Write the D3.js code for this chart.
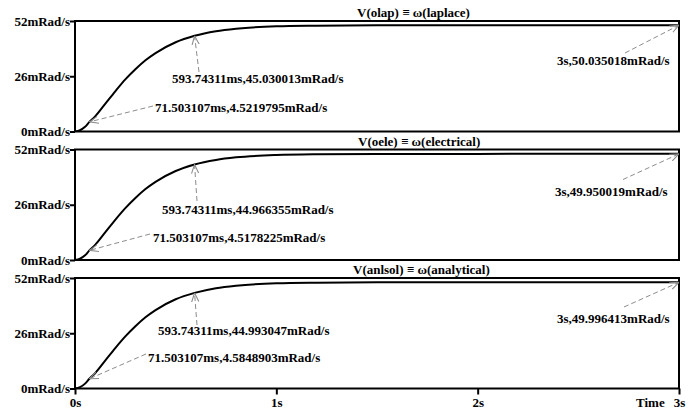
<!DOCTYPE html>
<html>
<head>
<meta charset="utf-8">
<script src="https://cdn.jsdelivr.net/npm/d3@7"></script>
<style>
  body { margin: 0; background: #fff; }
  text { font-family: "Liberation Serif", "Times New Roman", serif; font-weight: bold; font-size: 13px; fill: #000; }
</style>
</head>
<body>
<svg id="chart" width="696" height="411" viewBox="0 0 696 411"></svg>
<script>
// sample times (s)
const timeS = [0, 0.025, 0.05, 0.0715, 0.1, 0.15, 0.2, 0.25, 0.3, 0.35, 0.4, 0.5, 0.5937, 0.7, 0.8, 1.0, 1.2, 1.5, 2.0, 2.5, 3.0];

// angular speed, mRad/s
const laplace = [0, 0.6, 2.2, 4.52, 7.1, 13.0, 18.9, 24.5, 29.3, 33.5, 36.9, 42.0, 45.03, 47.2, 48.4, 49.5, 49.8, 49.97, 50.02, 50.03, 50.035];
const electrical = [0, 0.6, 2.2, 4.52, 7.1, 13.0, 18.9, 24.4, 29.2, 33.4, 36.8, 41.9, 44.97, 47.1, 48.3, 49.4, 49.75, 49.9, 49.94, 49.95, 49.95];
const analytical = [0, 0.6, 2.3, 4.58, 7.2, 13.1, 19.0, 24.5, 29.3, 33.5, 36.9, 42.0, 44.99, 47.2, 48.4, 49.5, 49.8, 49.95, 49.99, 50.0, 49.996];

const panelTitles = ["V(olap) \u2261 \u03c9(laplace)", "V(oele) \u2261 \u03c9(electrical)", "V(anlsol) \u2261 \u03c9(analytical)"];

// cursor readouts: [time s, value mRad/s] per panel
const markerTimes = [0.071503107, 0.59374311, 3];
const markerValues = [
  [4.5219795, 45.030013, 50.035018],
  [4.5178225, 44.966355, 49.950019],
  [4.5848903, 44.993047, 49.996413]
];
const markerLabels = [
  ["71.503107ms,4.5219795mRad/s", "593.74311ms,45.030013mRad/s", "3s,50.035018mRad/s"],
  ["71.503107ms,4.5178225mRad/s", "593.74311ms,44.966355mRad/s", "3s,49.950019mRad/s"],
  ["71.503107ms,4.5848903mRad/s", "593.74311ms,44.993047mRad/s", "3s,49.996413mRad/s"]
];

const yTicks = [0, 26, 52];
const yTickLabels = ["0mRad/s", "26mRad/s", "52mRad/s"];
const xTicks = [0, 1, 2, 3];
const xTickLabels = ["0s", "1s", "2s", "3s"];

const series = [laplace, electrical, analytical];

const svg = d3.select("#chart");
svg.append("rect").attr("width", 696).attr("height", 411).attr("fill", "#fff");

const plotLeft = 75, plotRight = 679;
const panelTops = [21, 149.5, 278];
const panelH = 110.5;
const titleX = [357, 358, 353];

// label layout per panel/marker: text x, baseline (rel. top), line start x, line start y (rel. top)
const labelPos = [
  [[155, 91, 153, 85], [172, 62, 199, 51], [557, 44, 625, 32]],
  [[153, 92.5, 150, 84.5], [162, 64, 197, 51.5], [555, 46, 623, 30]],
  [[148, 83.5, 146, 76], [158, 57, 197, 47], [557, 45, 624, 29]]
];

const x = d3.scaleLinear().domain([0, 3]).range([plotLeft, plotRight]);

const defs = svg.append("defs");
defs.append("marker")
  .attr("id", "openArrow")
  .attr("viewBox", "0 0 10 10")
  .attr("refX", 10).attr("refY", 5)
  .attr("markerWidth", 9).attr("markerHeight", 9)
  .attr("markerUnits", "userSpaceOnUse")
  .attr("orient", "auto")
  .append("path")
  .attr("d", "M0,1 L10,5 L0,9")
  .attr("fill", "none")
  .attr("stroke", "#8c8c8c")
  .attr("stroke-width", 1.2);

series.forEach((vals, p) => {
  const top = panelTops[p];
  const bottom = top + panelH;
  const y = d3.scaleLinear().domain([0, 52]).range([bottom, top]);
  const g = svg.append("g").attr("class", "panel");

  g.append("text")
    .attr("x", titleX[p])
    .attr("y", top - 4)
    .text(panelTitles[p]);

  // y axis ticks
  const yAxis = d3.axisLeft(y).tickValues(yTicks).tickSize(5)
    .tickFormat((d, i) => yTickLabels[i]);
  const ya = g.append("g").attr("transform", `translate(${plotLeft},0)`).call(yAxis);
  ya.select(".domain").remove();
  ya.selectAll("line").attr("stroke", "#000").attr("stroke-width", 2);
  ya.selectAll("text")
    .attr("x", -5)
    .style("font-family", "'Liberation Serif', serif")
    .style("font-weight", "bold")
    .style("font-size", "13px")
    .attr("fill", "#000");

  if (p === 2) {
    const xAxis = d3.axisBottom(x).tickValues(xTicks).tickSize(6)
      .tickFormat((d, i) => xTickLabels[i]);
    const xa = g.append("g").attr("transform", `translate(0,${bottom})`).call(xAxis);
    xa.select(".domain").remove();
    xa.selectAll("line").attr("stroke", "#000").attr("stroke-width", 2);
    xa.selectAll("text")
      .attr("y", 9)
      .style("font-family", "'Liberation Serif', serif")
      .style("font-weight", "bold")
      .style("font-size", "13px")
      .attr("fill", "#000");
    g.append("text").attr("x", 636).attr("y", bottom + 18).text("Time");
  }

  // curve
  const line = d3.line()
    .x((d, i) => x(timeS[i]))
    .y((d) => y(d))
    .curve(d3.curveMonotoneX);

  const clipId = `clip${p}`;
  defs.append("clipPath").attr("id", clipId)
    .append("rect").attr("x", plotLeft).attr("y", top).attr("width", plotRight - plotLeft).attr("height", panelH);

  g.append("path")
    .datum(vals)
    .attr("d", line)
    .attr("fill", "none")
    .attr("stroke", "#000")
    .attr("stroke-width", 2)
    .attr("clip-path", `url(#${clipId})`);

  // plot box
  g.append("rect")
    .attr("x", plotLeft).attr("y", top)
    .attr("width", plotRight - plotLeft).attr("height", panelH)
    .attr("fill", "none")
    .attr("stroke", "#000")
    .attr("stroke-width", 2);

  // cursor annotations
  markerTimes.forEach((t, m) => {
    const lp = labelPos[p][m];
    g.append("line")
      .attr("x1", lp[2]).attr("y1", top + lp[3])
      .attr("x2", x(t)).attr("y2", y(markerValues[p][m]))
      .attr("stroke", "#8c8c8c")
      .attr("stroke-width", 1)
      .attr("stroke-dasharray", "5,3")
      .attr("marker-end", "url(#openArrow)");
    g.append("text")
      .attr("x", lp[0])
      .attr("y", top + lp[1])
      .text(markerLabels[p][m]);
  });
});
</script>
</body>
</html>
